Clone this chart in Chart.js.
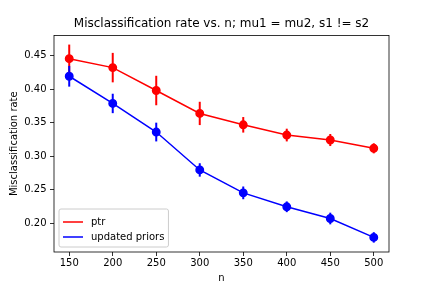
<!DOCTYPE html>
<html>
<head>
<meta charset="utf-8">
<script src="https://cdn.jsdelivr.net/npm/chart.js@4.4.0/dist/chart.umd.min.js"></script>
<style>
  html, body { margin: 0; padding: 0; background: #fff; }
  canvas { display: block; }
</style>
</head>
<body>
<canvas id="chart" width="432" height="288"></canvas>
<script>
const nValues = [150, 200, 250, 300, 350, 400, 450, 500];
const ptrRate = [0.4455, 0.4321, 0.3979, 0.3637, 0.3467, 0.3314, 0.3240, 0.3116];
const ptrErr = [0.021, 0.022, 0.022, 0.0174, 0.0116, 0.0095, 0.009, 0.0075];
const priorsRate = [0.4192, 0.3786, 0.3359, 0.2793, 0.2451, 0.2243, 0.2068, 0.1786];
const priorsErr = [0.0155, 0.0145, 0.014, 0.010, 0.0095, 0.008, 0.0087, 0.0078];
const xTicks = [150, 200, 250, 300, 350, 400, 450, 500];
const yTicks = [0.20, 0.25, 0.30, 0.35, 0.40, 0.45];

const FONT = 'DejaVu Sans';

function points(ys) {
  return nValues.map((x, i) => ({ x, y: ys[i] }));
}

function series(label, ys, errs, color) {
  return {
    label,
    data: points(ys),
    errors: errs,
    borderColor: color,
    backgroundColor: color,
    pointBackgroundColor: color,
    pointBorderColor: color,
    pointRadius: 3.7,
    borderWidth: 1.5,
    tension: 0,
    fill: false,
  };
}

// vertical error bars drawn through the chart's own scales
const errorBars = {
  id: 'errorBars',
  afterDatasetsDraw(chart) {
    const { ctx, scales: { x, y } } = chart;
    ctx.save();
    chart.data.datasets.forEach((ds) => {
      ctx.strokeStyle = ds.borderColor;
      ctx.lineWidth = 2;
      ds.data.forEach((p, i) => {
        const e = ds.errors[i];
        const px = x.getPixelForValue(p.x);
        ctx.beginPath();
        ctx.moveTo(px, y.getPixelForValue(p.y - e));
        ctx.lineTo(px, y.getPixelForValue(p.y + e));
        ctx.stroke();
      });
    });
    ctx.restore();
  },
};

// full axes frame and a matplotlib-style legend in the lower left
const frameAndLegend = {
  id: 'frameAndLegend',
  afterDraw(chart) {
    const { ctx, chartArea: a } = chart;
    ctx.save();
    ctx.strokeStyle = '#000';
    ctx.lineWidth = 0.8;
    ctx.strokeRect(a.left, a.top, a.right - a.left, a.bottom - a.top);

    ctx.font = `10px "${FONT}"`;
    const items = chart.data.datasets;
    const textW = Math.max(...items.map((d) => ctx.measureText(d.label).width));
    const pad = 4, handle = 20, gap = 8, rowH = 10, spacing = 5;
    const w = pad + handle + gap + textW + pad;
    const h = pad * 2 + rowH * items.length + spacing * (items.length + 1) - spacing * 2 + 5;
    const bx = a.left + 5;
    const by = a.bottom - 5 - h;

    ctx.beginPath();
    ctx.roundRect(bx, by, w, h, 2);
    ctx.fillStyle = 'rgba(255,255,255,0.8)';
    ctx.fill();
    ctx.strokeStyle = '#cccccc';
    ctx.lineWidth = 1;
    ctx.stroke();

    ctx.textBaseline = 'middle';
    items.forEach((d, i) => {
      const cy = by + pad + 4 + rowH / 2 + i * (rowH + spacing);
      ctx.strokeStyle = d.borderColor;
      ctx.lineWidth = 1.5;
      ctx.beginPath();
      ctx.moveTo(bx + pad, cy);
      ctx.lineTo(bx + pad + handle, cy);
      ctx.stroke();
      ctx.fillStyle = '#000';
      ctx.fillText(d.label, bx + pad + handle + gap, cy);
    });
    ctx.restore();
  },
};

new Chart(document.getElementById('chart'), {
  type: 'line',
  data: {
    datasets: [
      series('ptr', ptrRate, ptrErr, '#ff0000'),
      series('updated priors', priorsRate, priorsErr, '#0000ff'),
    ],
  },
  options: {
    responsive: false,
    animation: false,
    devicePixelRatio: 1,
    // left padding offsets the title so it is centred over the plot area
    layout: { autoPadding: false, padding: { left: 11, right: 0, top: 0, bottom: 0 } },
    plugins: {
      legend: { display: false },
      tooltip: { enabled: false },
      title: {
        display: true,
        text: 'Misclassification rate vs. n; mu1 = mu2, s1 != s2',
        color: '#000',
        font: { family: FONT, size: 12, weight: 'normal' },
        padding: { top: 17, bottom: 4 },
      },
    },
    scales: {
      x: {
        type: 'linear',
        min: 132.5,
        max: 517.5,
        afterBuildTicks: (s) => { s.ticks = xTicks.map((v) => ({ value: v })); },
        afterFit: (s) => { s.height = 36; },
        border: { display: false },
        grid: { drawOnChartArea: false, drawTicks: true, tickLength: 4, color: '#000', lineWidth: 0.8 },
        ticks: { color: '#000', font: { family: FONT, size: 10 }, padding: 1.5, maxRotation: 0 },
        title: { display: true, text: 'n', color: '#000', font: { family: FONT, size: 10 }, padding: { top: 0, bottom: 4 } },
      },
      y: {
        min: 0.1568,
        max: 0.4802,
        afterBuildTicks: (s) => { s.ticks = yTicks.map((v) => ({ value: v })); },
        afterFit: (s) => { s.width = 43; },
        border: { display: false },
        grid: { drawOnChartArea: false, drawTicks: true, tickLength: 4, color: '#000', lineWidth: 0.8 },
        ticks: { color: '#000', font: { family: FONT, size: 10 }, padding: 3.5, callback: (v) => v.toFixed(2) },
        title: { display: true, text: 'Misclassification rate', color: '#000', font: { family: FONT, size: 10 }, padding: { top: -3, bottom: 0 } },
      },
      // empty right-hand margin, matching the reference
      spacer: {
        type: 'linear',
        position: 'right',
        display: true,
        afterFit: (s) => { s.width = 43; },
        border: { display: false },
        grid: { display: false },
        ticks: { display: false },
      },
    },
  },
  plugins: [errorBars, frameAndLegend],
});
</script>
</body>
</html>
